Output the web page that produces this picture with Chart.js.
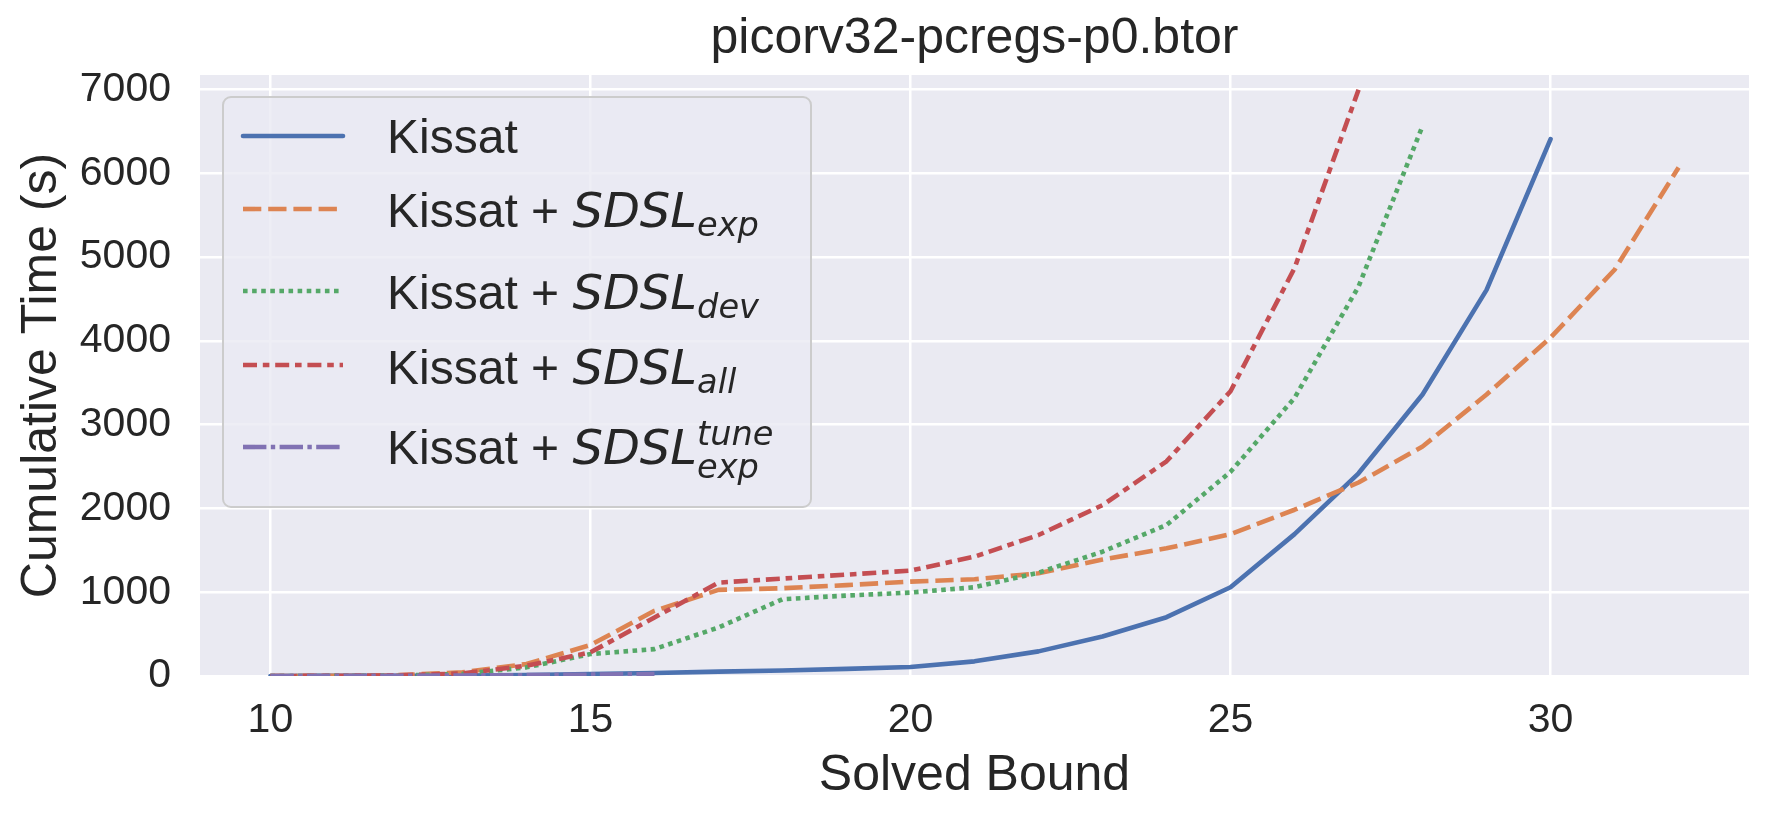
<!DOCTYPE html>
<html>
<head>
<meta charset="utf-8">
<title>picorv32-pcregs-p0.btor</title>
<script src="https://cdn.jsdelivr.net/npm/chart.js@4.4.1/dist/chart.umd.min.js"></script>
<style>
  html, body { margin: 0; padding: 0; background: #fff; }
  #wrap { position: relative; width: 1768px; height: 818px; }
  #legend { position: absolute; left: 0; top: 0; pointer-events: none; }
  #legend text { font-family: 'Liberation Sans', Arial, sans-serif; font-size: 48px; fill: #262626; white-space: pre; }
  #legend .m { font-family: 'DejaVu Sans', sans-serif; font-style: italic; }
  #legend .s { font-size: 33.6px; }
</style>
</head>
<body>
<div id="wrap">
  <canvas id="chart"></canvas>
  <svg id="legend" width="1768" height="818">
    <rect x="223" y="97" width="588" height="410" rx="8" ry="8"
          fill="#EAEAF2" fill-opacity="0.8" stroke="#CCCCCC" stroke-width="2"/>
    <line x1="243" y1="136" x2="343" y2="136" stroke="#4C72B0" stroke-width="4.6" stroke-linecap="round"/>
    <line x1="243" y1="209" x2="343" y2="209" stroke="#DD8452" stroke-width="4.6" stroke-dasharray="18.3 6.9"/>
    <line x1="243" y1="291" x2="343" y2="291" stroke="#55A868" stroke-width="4.6" stroke-dasharray="4.6 4.5"/>
    <line x1="243" y1="365" x2="343" y2="365" stroke="#C44E52" stroke-width="4.6" stroke-dasharray="14 5.8 6.6 5.8"/>
    <line x1="243" y1="447" x2="343" y2="447" stroke="#8172B3" stroke-width="4.6" stroke-dasharray="23.4 4.4 4.4 4.4"/>
    <text x="387" y="153">Kissat</text>
    <text x="387" y="227">Kissat + <tspan class="m">SDSL</tspan><tspan class="m s" dy="9">exp</tspan></text>
    <text x="387" y="309">Kissat + <tspan class="m">SDSL</tspan><tspan class="m s" dy="9">dev</tspan></text>
    <text x="387" y="384">Kissat + <tspan class="m">SDSL</tspan><tspan class="m s" dy="9">all</tspan></text>
    <text x="387" y="464">Kissat + <tspan class="m">SDSL</tspan><tspan id="tuneSup" class="m s" dy="-19">tune</tspan></text>
    <text id="tuneSub" class="m s" x="707" y="478">exp</text>
  </svg>
</div>
<script>
// solved bounds (x values), shared by all series
const bounds = [10, 11, 12, 13, 14, 15, 16, 17, 18, 19, 20, 21, 22, 23, 24, 25, 26, 27, 28, 29, 30, 31, 32];

// cumulative time (s) per solved bound
const kissat      = [0, 1, 3, 6, 12, 22, 36, 52, 65, 85, 107, 175, 294, 472, 702, 1060, 1694, 2420, 3360, 4610, 6410];
const sdslExp     = [0, 2, 10, 44, 143, 370, 778, 1028, 1048, 1085, 1127, 1155, 1226, 1390, 1524, 1694, 1985, 2310, 2740, 3360, 4040, 4850, 6070];
const sdslDev     = [0, 1, 5, 25, 103, 262, 321, 579, 917, 960, 996, 1060, 1234, 1484, 1802, 2437, 3320, 4650, 6566];
const sdslAll     = [0, 2, 8, 30, 123, 282, 698, 1115, 1163, 1210, 1258, 1425, 1683, 2040, 2563, 3400, 4870, 7000];
const sdslExpTune = [0, 1, 3, 6, 10, 16, 22];

const seriesNames = ['Kissat', 'Kissat + SDSL_exp', 'Kissat + SDSL_dev', 'Kissat + SDSL_all', 'Kissat + SDSL_exp^tune'];
const xTicks = [10, 15, 20, 25, 30];
const yTicks = [0, 1000, 2000, 3000, 4000, 5000, 6000, 7000];

const FONT = "'Liberation Sans', Arial, sans-serif";
const INK = '#262626';

function points(vals) {
    return vals.map((v, i) => ({ x: bounds[i], y: v }));
}

// grey plot area like seaborn darkgrid
const plotBg = {
    id: 'plotBg',
    beforeDraw(chart) {
        const { ctx, chartArea: a } = chart;
        ctx.save();
        ctx.fillStyle = '#EAEAF2';
        ctx.fillRect(a.left, a.top, a.right - a.left, a.bottom - a.top);
        ctx.restore();
    }
};

const common = { pointRadius: 0, tension: 0, borderWidth: 4.6, borderJoinStyle: 'round', clip: 0 };

new Chart(document.getElementById('chart'), {
    type: 'line',
    data: {
        datasets: [
            { ...common, label: seriesNames[0], data: points(kissat), borderColor: '#4C72B0', borderCapStyle: 'round', order: 4 },
            { ...common, label: seriesNames[1], data: points(sdslExp), borderColor: '#DD8452', borderDash: [18.3, 6.9], order: 3 },
            { ...common, label: seriesNames[2], data: points(sdslDev), borderColor: '#55A868', borderDash: [4.6, 4.5], order: 2 },
            { ...common, label: seriesNames[3], data: points(sdslAll), borderColor: '#C44E52', borderDash: [14, 5.8, 6.6, 5.8], order: 1 },
            { ...common, label: seriesNames[4], data: points(sdslExpTune), borderColor: '#8172B3', borderDash: [23.4, 4.4, 4.4, 4.4], order: 0 }
        ]
    },
    options: {
        responsive: true,
        maintainAspectRatio: false,
        animation: false,
        layout: { padding: { left: 0, right: 19, top: 0, bottom: 0 } },
        plugins: {
            legend: { display: false },
            tooltip: { enabled: false },
            title: {
                display: true,
                text: 'picorv32-pcregs-p0.btor',
                fullSize: false,
                color: INK,
                font: { family: FONT, size: 50, weight: 'normal' },
                padding: { top: 9, bottom: 6 }
            }
        },
        scales: {
            x: {
                type: 'linear',
                min: 8.9,
                max: 33.1,
                afterBuildTicks: ax => { ax.ticks = xTicks.map(v => ({ value: v })); },
                afterFit: s => { s.height = 142; },
                grid: { color: '#ffffff', lineWidth: 2.5, drawTicks: false },
                border: { display: false },
                ticks: {
                    color: INK, padding: 20, maxRotation: 0, autoSkip: false,
                    font: { family: FONT, size: 41 },
                    callback: v => String(v)
                },
                title: {
                    display: true, text: 'Solved Bound', color: INK,
                    font: { family: FONT, size: 50 },
                    padding: { top: 0, bottom: 12 }
                }
            },
            y: {
                type: 'linear',
                min: 0,
                max: 7175,
                afterBuildTicks: ax => { ax.ticks = yTicks.map(v => ({ value: v })); },
                afterFit: s => { s.width = 200; },
                grid: { color: '#ffffff', lineWidth: 2.5, drawTicks: false },
                border: { display: false },
                ticks: {
                    color: INK, padding: 29, autoSkip: false,
                    font: { family: FONT, size: 41 },
                    callback: v => String(v)
                },
                title: {
                    display: true, text: 'Cumulative Time (s)', color: INK,
                    font: { family: FONT, size: 50 },
                    padding: { top: 12, bottom: 0 }
                }
            }
        }
    },
    plugins: [plotBg]
});

// put the "exp" subscript under the "tune" superscript
const sup = document.getElementById('tuneSup');
document.getElementById('tuneSub').setAttribute('x', sup.getStartPositionOfChar(0).x);
</script>
</body>
</html>
